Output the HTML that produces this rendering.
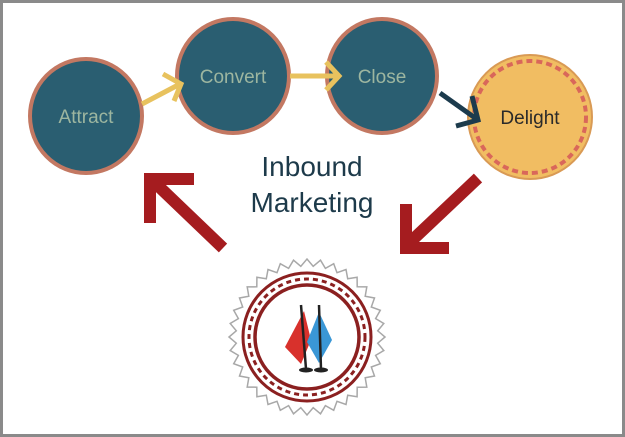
<!DOCTYPE html>
<html><head><style>
html,body{margin:0;padding:0;background:#fff}
svg{display:block}
</style></head><body>
<svg width="625" height="437" viewBox="0 0 625 437" xmlns="http://www.w3.org/2000/svg">
<rect x="1.5" y="1.5" width="622" height="434" fill="#fff" stroke="#8a8a8a" stroke-width="3"/>
<!-- circles -->
<ellipse cx="86" cy="116" rx="56" ry="57" fill="#2a5e71" stroke="#c37862" stroke-width="4"/>
<ellipse cx="233" cy="76" rx="56" ry="57" fill="#2a5e71" stroke="#c37862" stroke-width="4"/>
<ellipse cx="382" cy="76" rx="55" ry="57" fill="#2a5e71" stroke="#c37862" stroke-width="4"/>
<circle cx="530" cy="117" r="62" fill="#f1bd62" stroke="#d99a55" stroke-width="2"/>
<circle cx="530" cy="117" r="56" fill="none" stroke="#d9675a" stroke-width="4" stroke-dasharray="6 4"/>
<!-- connectors -->
<line x1="142" y1="104" x2="180" y2="84" stroke="#e8c25e" stroke-width="5"/>
<polyline points="163,74 181,84 174,101" fill="none" stroke="#e8c25e" stroke-width="5"/>
<line x1="290" y1="76" x2="338" y2="76" stroke="#e8c25e" stroke-width="5"/>
<polyline points="326,62 339,76 326,90" fill="none" stroke="#e8c25e" stroke-width="5"/>
<line x1="440" y1="93" x2="478" y2="120" stroke="#1c3b4d" stroke-width="5"/>
<polyline points="472,96 478,120 456,126" fill="none" stroke="#1c3b4d" stroke-width="5"/>
<g font-family="Liberation Sans, sans-serif" font-size="19" text-anchor="middle">
<text x="86" y="123" fill="#9db6a0">Attract</text>
<text x="233" y="83" fill="#9db6a0">Convert</text>
<text x="382" y="83" fill="#9db6a0">Close</text>
<text x="530" y="124" fill="#2a2a2a">Delight</text>
</g>
<g font-family="Liberation Sans, sans-serif" font-size="28" text-anchor="middle" fill="#1d3a4a">
<text x="312" y="176">Inbound</text>
<text x="312" y="212">Marketing</text>
</g>
<!-- big arrows -->
<g stroke="#a51c1f" stroke-width="12" fill="none">
<line x1="223" y1="248" x2="152" y2="180"/>
<polyline points="194,179 150,179 150,223"/>
<line x1="478" y1="178" x2="406" y2="246"/>
<polyline points="406,204 406,248 449,248"/>
</g>
<!-- badge -->
<g transform="translate(307,337)">
<polygon id="zz" fill="#fff" stroke="#a8a8a8" stroke-width="1.5" points=""/>
<circle r="64" fill="#fff" stroke="#8b2020" stroke-width="3"/>
<circle r="58" fill="none" stroke="#8b2020" stroke-width="3" stroke-dasharray="5 4"/>
<circle r="52" fill="none" stroke="#8b2020" stroke-width="3.5"/>
<polygon points="-3,-26 -22,10 -6,27 4,3 " fill="#d8312c"/>
<polygon points="12,-25 0,5 12,26 25,3" fill="#3a97d6"/>
<line x1="-6" y1="-32" x2="-1" y2="32" stroke="#222" stroke-width="2.5"/>
<line x1="12" y1="-32" x2="14" y2="32" stroke="#222" stroke-width="2.5"/>
<ellipse cx="-1" cy="33" rx="7" ry="2.5" fill="#222"/>
<ellipse cx="14" cy="33" rx="7" ry="2.5" fill="#222"/>
</g>
<script>
(function(){var p=[],n=36;for(var i=0;i<2*n;i++){var r=i%2?71:78,a=i*Math.PI/n;p.push((r*Math.cos(a)).toFixed(1)+','+(r*Math.sin(a)).toFixed(1));}document.getElementById('zz').setAttribute('points',p.join(' '));})();
</script>
</svg>
</body></html>
